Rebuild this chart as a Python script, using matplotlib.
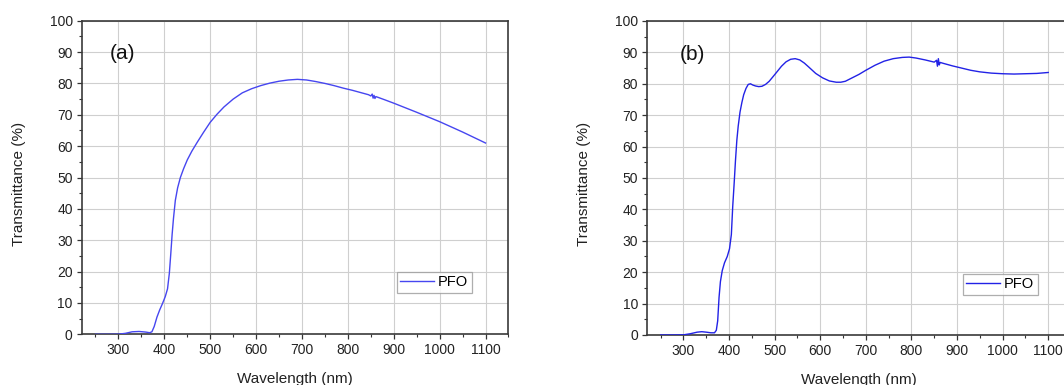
import matplotlib
matplotlib.use('Agg')

import matplotlib.pyplot as plt
from matplotlib.ticker import MultipleLocator

plt.rcParams['font.family'] = ['Liberation Sans', 'DejaVu Sans']

# PFO film, sample (a)
wl_a = [250, 280, 300, 315, 330, 345, 360, 368, 373, 378, 384, 390, 396, 402,
        407, 411, 414, 417, 420, 424, 429, 435, 442, 450, 460, 472, 485, 500,
        515, 530, 550, 570, 590, 610, 630, 650, 670, 690, 710, 730, 750, 770,
        790, 810, 830, 845, 850, 853, 855, 857, 859, 861, 865, 880, 900, 950,
        1000, 1050, 1100]
T_a = [0, 0, 0.05, 0.3, 0.8, 0.9, 0.7, 0.5, 0.8, 2.5, 5.5, 7.8, 9.8, 12.0,
       14.5, 19.5, 25.5, 31.8, 37.0, 42.7, 46.7, 50.0, 52.8, 55.6, 58.4, 61.3,
       64.3, 67.6, 70.2, 72.5, 75.0, 77.0, 78.3, 79.3, 80.1, 80.7, 81.1, 81.3,
       81.1, 80.6, 80.0, 79.3, 78.5, 77.8, 77.0, 76.4, 76.0, 76.6, 75.3, 76.2,
       75.2, 75.8, 75.6, 74.8, 73.7, 70.8, 67.8, 64.5, 61.0]

# PFO film, sample (b)
wl_b = [250, 280, 300, 315, 330, 340, 350, 360, 368, 372, 375, 378, 381, 385,
        390, 396, 401, 405, 408, 411, 414, 417, 420, 424, 428, 432, 437, 442,
        447, 452, 458, 465, 472, 480, 488, 496, 505, 515, 525, 535, 545, 555,
        565, 575, 590, 605, 620, 635, 645, 655, 670, 685, 700, 720, 740, 760,
        780, 795, 810, 830, 850, 855, 857, 859, 861, 863, 870, 890, 910, 930,
        950, 975, 1000, 1025, 1050, 1075, 1100]
T_b = [0, 0, 0.05, 0.4, 0.9, 1.05, 0.9, 0.7, 0.7, 1.5, 4.5, 12.0, 17.0, 20.5,
       23.0, 25.0, 27.5, 32.0, 41.0, 48.0, 55.5, 62.0, 66.5, 71.0, 74.0, 76.5,
       78.5, 79.8, 80.0, 79.6, 79.3, 79.1, 79.2, 79.8, 80.8, 82.2, 83.8, 85.6,
       87.0, 87.8, 88.0, 87.6, 86.6, 85.3, 83.3, 81.9, 80.9, 80.5, 80.5, 80.8,
       81.9, 83.0, 84.3, 85.9, 87.2, 88.0, 88.4, 88.5, 88.2, 87.6, 86.9, 87.5,
       85.6, 88.0, 86.0, 86.8, 86.5, 85.7, 85.0, 84.3, 83.8, 83.4, 83.2, 83.1,
       83.2, 83.3, 83.6]

fig = plt.figure(figsize=(10.64, 3.85), dpi=100)
ax_a = fig.add_axes([0.0768, 0.1317, 0.4011, 0.8145])
ax_b = fig.add_axes([0.6081, 0.1299, 0.3985, 0.8156])


def style_axes(ax, tag, tag_x, leg_anchor):
    ax.set_xlim(220, 1150)
    ax.set_ylim(0, 100)
    ax.xaxis.set_major_locator(MultipleLocator(100))
    ax.xaxis.set_minor_locator(MultipleLocator(50))
    ax.yaxis.set_major_locator(MultipleLocator(10))
    ax.yaxis.set_minor_locator(MultipleLocator(5))
    ax.grid(True, which='major', color='#cfcfcf', lw=0.8)
    ax.set_axisbelow(True)
    for s in ax.spines.values():
        s.set_color('#3a3a3a')
        s.set_linewidth(1.2)
    ax.tick_params(which='major', length=3.5, width=0.9, color='#333333',
                   labelsize=10, labelcolor='#222222', pad=3)
    ax.tick_params(which='minor', length=2, width=0.8, color='#333333')
    ax.set_xlabel('Wavelength (nm)', fontsize=11, color='#222222')
    ax.set_ylabel('Transmittance (%)', fontsize=11, color='#222222')
    ax.xaxis.set_label_coords(0.5, -0.142)
    ax.xaxis.label.set_verticalalignment('center')
    ax.yaxis.set_label_coords(-0.148, 0.48)
    ax.yaxis.label.set_verticalalignment('center')
    ax.text(tag_x, 0.894, tag, transform=ax.transAxes, fontsize=15,
            va='center', ha='left', color='#111111')
    leg = ax.legend(loc='lower right', bbox_to_anchor=leg_anchor,
                    fontsize=10.5, frameon=True, fancybox=False,
                    borderpad=0.25, handlelength=2.3, handletextpad=0.3,
                    borderaxespad=0)
    leg.get_frame().set_edgecolor('#9a9a9a')
    leg.get_frame().set_linewidth(0.9)


# curves sit above the spines so the flat part near 0 % stays visible
ax_a.plot(wl_a, T_a, color='#4646f0', lw=1.0, label='PFO', zorder=3)
ax_b.plot(wl_b, T_b, color='#2222e6', lw=1.0, label='PFO', zorder=3)

style_axes(ax_a, '(a)', 0.066, (0.9145, 0.132))
style_axes(ax_b, '(b)', 0.078, (0.922, 0.127))

fig.savefig('out.png', dpi=100)
